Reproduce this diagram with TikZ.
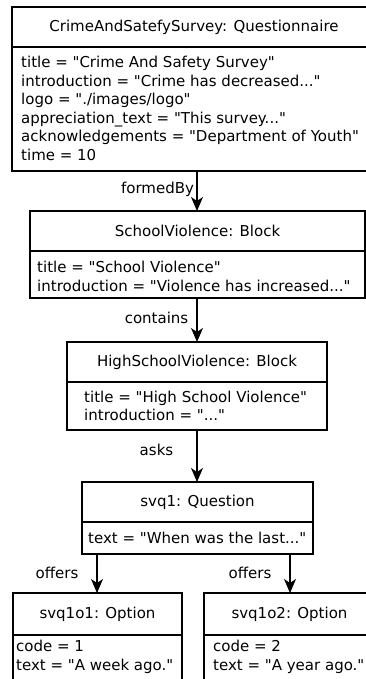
\documentclass[tikz,border=0pt]{standalone}
\usepackage{fontspec}
\setmainfont{DejaVu Sans}[Ligatures=TeXOff]
\usetikzlibrary{arrows.meta}
\begin{document}
\begin{tikzpicture}[x=1pt,y=-1pt,
  obj/.style={draw, line width=1.1pt, anchor=north west, inner sep=0pt, outer sep=0pt},
  txt/.style={font=\fontsize{15}{18.6}\selectfont, inner sep=0pt},
  attrs/.style={txt, align=left, anchor=west},
  link/.style={line width=1.1pt, -{Stealth[length=14pt,width=12pt,inset=4pt]}},
  divider/.style={line width=1.1pt}]
\useasboundingbox (0,0) rectangle (366,679);
\clip (0,0) rectangle (366,679);

% object boxes
\node[obj, minimum width=364, minimum height=164] (quest) at (12,7) {};
\node[obj, minimum width=335, minimum height=87] (sv) at (30,211) {};
\node[obj, minimum width=260, minimum height=88] (hsv) at (67,342) {};
\node[obj, minimum width=231, minimum height=72] (q1) at (82,482) {};
\node[obj, minimum width=169, minimum height=107] (o1) at (13,593) {};
\node[obj, minimum width=171, minimum height=107] (o2) at (204,593) {};

% header / attribute dividers
\draw[divider] (quest.west |- 0,47) -- (quest.east |- 0,47);
\draw[divider] (sv.west |- 0,251) -- (sv.east |- 0,251);
\draw[divider] (hsv.west |- 0,382) -- (hsv.east |- 0,382);
\draw[divider] (q1.west |- 0,522) -- (q1.east |- 0,522);
\draw[divider] (o1.west |- 0,635) -- (o1.east |- 0,635);
\draw[divider] (o2.west |- 0,635) -- (o2.east |- 0,635);

% headers
\node[txt] (questH) at (194,27) {CrimeAndSatefySurvey: Questionnaire};
\node[txt] (svH) at (197.5,231) {SchoolViolence: Block};
\node[txt] (hsvH) at (197,362) {HighSchoolViolence: Block};
\node[txt] (q1H) at (197.5,502) {svq1: Question};
\node[txt] (o1H) at (97.5,614) {svq1o1: Option};
\node[txt] (o2H) at (289.5,614) {svq1o2: Option};

% attributes
\node[attrs] (questA) at (21,108.5) {title = "Crime And Safety Survey"\\
introduction = "Crime has decreased..."\\
logo = "./images/logo"\\
appreciation\_text = "This survey..."\\
acknowledgements = "Department of Youth"\\
time = 10};
\node[attrs] (svA) at (37,276.5) {title = "School Violence"\\
introduction = "Violence has increased..."};
\node[attrs] (hsvA) at (84,406) {title = "High School Violence"\\
introduction = "..."};
\node[attrs] (q1A) at (88,538) {text = "When was the last..."};
\node[attrs] (o1A) at (16,657) {code = 1\\text = "A week ago."};
\node[attrs] (o2A) at (213,657) {code = 2\\text = "A year ago."};

% links
\coordinate (spine) at (197,0);
\coordinate (leftx) at (97,0);
\coordinate (rightx) at (290,0);
\draw[link] (quest.south -| spine) -- (sv.north -| spine);
\draw[link] (sv.south -| spine) -- (hsv.north -| spine);
\draw[link] (hsv.south -| spine) -- (q1.north -| spine);
\draw[link] (q1.south -| leftx) -- (o1.north -| leftx);
\draw[link] (q1.south -| rightx) -- (o2.north -| rightx);

% link labels
\node[txt] (lformed) at (157.5,189) {formedBy};
\node[txt] (lcontains) at (156.5,318) {contains};
\node[txt] (lasks) at (156.5,450) {asks};
\node[txt] (loffers1) at (57,573) {offers};
\node[txt] (loffers2) at (250,573) {offers};
\end{tikzpicture}
\end{document}
